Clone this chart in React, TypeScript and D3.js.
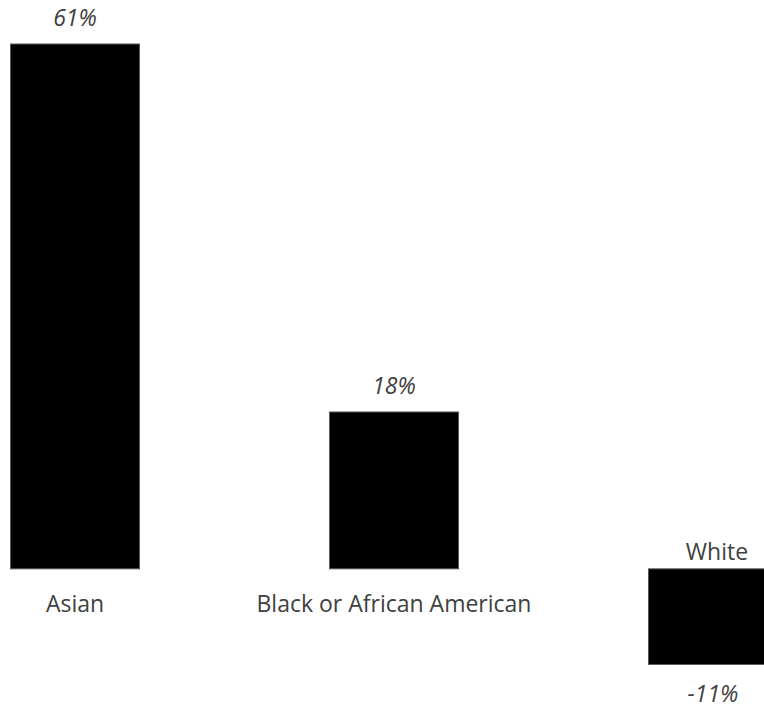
import React from "react";
import * as d3 from "d3";

const categories = ["Asian", "Black or African American", "White"];
const values = [60.9, 18.2, -11.1];
const valueLabels = ["61%", "18%", "-11%"];

const W = 764;
const H = 707;

export default function App() {
  const x = d3
    .scaleBand<string>()
    .domain(categories)
    .range([10.5, 777.5])
    .paddingInner(190 / 319)
    .paddingOuter(0);
  const y = d3.scaleLinear().domain([-11.1, 60.9]).range([664.5, 44]);
  const y0 = y(0);
  const font = "'Open Sans', 'Noto Sans', sans-serif";
  return (
    <svg
      width={W}
      height={H}
      style={{ position: "absolute", left: 0, top: 0, background: "#fff" }}
      fontFamily={font}
    >
      {categories.map((c, i) => {
        const v = values[i];
        const bx = x(c)!;
        const bw = x.bandwidth();
        const top = Math.min(y(v), y0);
        const bot = Math.max(y(v), y0);
        const cx = bx + bw / 2;
        const pos = v >= 0;
        return (
          <g key={c}>
            <rect
              x={bx}
              y={top}
              width={bw}
              height={bot - top}
              fill="#000"
              stroke="#595959"
              strokeWidth={1}
            />
            <text
              x={cx}
              y={pos ? top - 18 : bot + 37}
              textAnchor="middle"
              fontStyle="italic"
              fontSize={23}
              fill="#404040"
            >
              {valueLabels[i]}
            </text>
            <text
              x={pos ? cx : cx + 4}
              y={pos ? y0 + 43 : y0 - 9}
              textAnchor="middle"
              fontSize={23}
              fill="#404040"
            >
              {c}
            </text>
          </g>
        );
      })}
    </svg>
  );
}
